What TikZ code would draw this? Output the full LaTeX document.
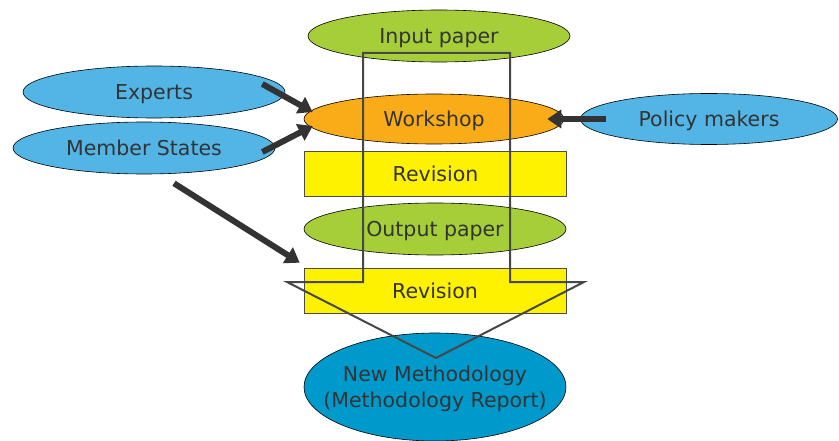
\documentclass[tikz,border=0pt]{standalone}
\usepackage{fontspec}
\setmainfont{DejaVu Sans}
\usetikzlibrary{shapes.geometric,arrows.meta,calc}
\definecolor{paper}{RGB}{166,206,57}
\definecolor{actor}{RGB}{82,181,230}
\definecolor{work}{RGB}{250,172,24}
\definecolor{rev}{RGB}{255,242,0}
\definecolor{result}{RGB}{0,153,204}
\definecolor{ink}{RGB}{51,51,51}

\begin{document}
\begin{tikzpicture}[x=1pt,y=-1pt,font=\fontsize{20.5}{26}\selectfont,text=ink,
    oval/.style={ellipse,draw=black,line width=0.6pt,minimum width=262pt,minimum height=52pt,inner sep=0pt,text depth=0pt},
    box/.style={rectangle,draw=black!70,line width=0.6pt,fill=rev,minimum width=262pt,minimum height=45pt,inner sep=0pt,text depth=0pt},
    fat/.style={line width=6pt,draw=ink,-{Triangle[length=14pt,width=18pt]}}]
            \useasboundingbox (0,0) rectangle (839,441);
            \node[oval,fill=paper] (input) at (439,36) {Input paper};
            \node[oval,fill=actor] (experts) at (154,92) {Experts};
            \node[oval,fill=actor] (member) at (144,148) {Member States};
            \node[oval,fill=work,minimum width=260pt,minimum height=50pt] (workshop) at (434,119) {Workshop};
            \node[oval,fill=actor,minimum width=257pt,minimum height=51pt] (policy) at (709,119) {Policy makers};
            \node[box] (rev1) at (435.5,174) {Revision};
            \node[oval,fill=paper] (output) at (435,229) {Output paper};
            \node[box] (rev2) at (435,290.5) {Revision};
            \node[oval,fill=result,minimum height=108pt,inner xsep=-22pt,inner ysep=10pt,align=center] (method) at (435,387) {New Methodology\\(Methodology Report)};
            \draw[fat] ($(experts.east)+(-23,-8)$) -- ($(workshop.west)+(9,-7)$);
            \draw[fat] ($(member.east)+(-13,4)$) -- ($(workshop.west)+(9,7)$);
            \draw[fat] ($(policy.west)+(26,0)$) -- ($(workshop.east)+(-17,0)$);
            \draw[fat] ($(member.south)+(30,9)$) -- ($(rev2.north west)+(-4,-5)$);
            \draw[ink!90,line width=2pt] (363,53)--(510,53)--(510,282)--(584,282)--(436,358)--(287,282)--(363,282)--cycle;
        \end{tikzpicture}
\end{document}
